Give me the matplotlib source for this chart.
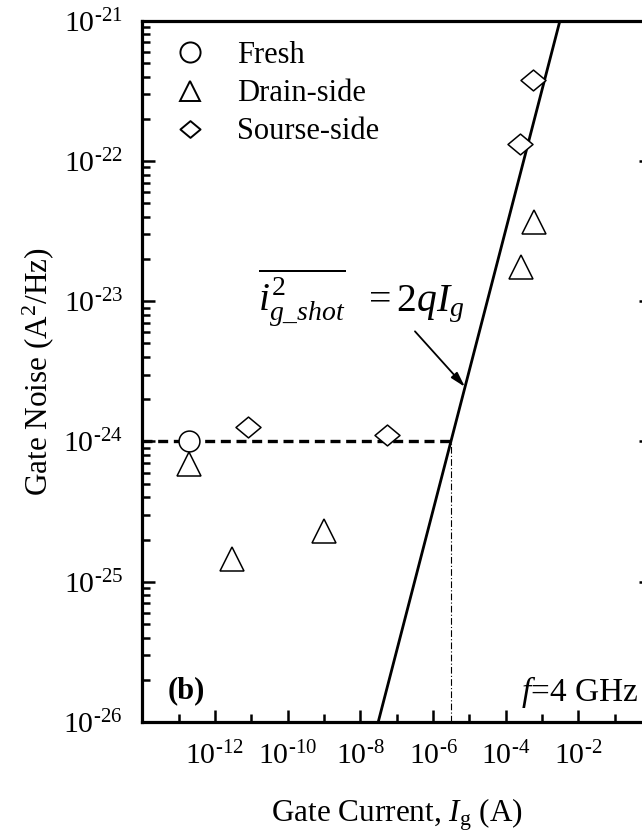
import numpy as np
import matplotlib
matplotlib.use("Agg")
import matplotlib.pyplot as plt
from matplotlib.path import Path
from matplotlib.ticker import LogLocator, NullFormatter, FixedLocator

plt.rcParams['font.family'] = ['Liberation Serif', 'DejaVu Serif']
plt.rcParams['mathtext.fontset'] = 'custom'
plt.rcParams['mathtext.rm'] = 'Liberation Serif'
plt.rcParams['mathtext.it'] = 'Liberation Serif:italic'
plt.rcParams['mathtext.bf'] = 'Liberation Serif:bold'

# ---- measured gate noise at f = 4 GHz ----
fresh_ig = [2.0e-13]
fresh_sn = [1.0e-24]

drain_ig = [2.0e-13, 3.0e-12, 1.0e-9, 2.6e-4, 6.2e-4]
drain_sn = [6.9e-25, 1.45e-25, 2.3e-25, 1.75e-23, 3.7e-23]

source_ig = [7.9e-12, 5.4e-8, 2.5e-4, 5.5e-4]
source_sn = [1.26e-24, 1.12e-24, 1.32e-22, 3.77e-22]

series_labels = ["Fresh", "Drain-side", "Sourse-side"]

# shot noise reference 2qIg
q = 1.602e-19
noise_floor = 1e-24

HY = "\u2010"  # short hyphen for the exponents
x_major = [1e-14, 1e-12, 1e-10, 1e-8, 1e-6, 1e-4, 1e-2, 1e0]
x_minor = [1e-13, 1e-11, 1e-9, 1e-7, 1e-5, 1e-3, 1e-1]
x_exps = [None, 12, 10, 8, 6, 4, 2, None]
y_major = [1e-26, 1e-25, 1e-24, 1e-23, 1e-22, 1e-21]
y_exps = [26, 25, 24, 23, 22, 21]


def pow_label(e):
    if e is None:
        return ""
    return r"$10^{\mathrm{%s}%d}$" % (HY, e)


fig = plt.figure(figsize=(6.42, 8.35), dpi=100)
# axes run past the right edge of the canvas
ax = fig.add_axes([142.2 / 642, 113 / 835, 508.8 / 642, 701.3 / 835])

ax.set_xscale('log')
ax.set_yscale('log')
ax.set_xlim(1e-14, 1e0)
ax.set_ylim(1e-26, 1e-21)

# shot noise line
ig = np.array([1e-14, 1e0])
ax.plot(ig, 2 * q * ig, color='black', lw=2.0, zorder=3)

ig_cross = noise_floor / (2 * q)
ax.plot([1e-14, ig_cross], [noise_floor, noise_floor], color='black', lw=2.4,
        linestyle=(0, (3.0, 1.7)), zorder=2)
ax.plot([ig_cross, ig_cross], [1e-26, noise_floor], color='black', lw=0.8,
        linestyle=(0, (6, 2, 1, 2)), zorder=2)

diamond = Path([(-1.2, 0), (0, 1), (1.2, 0), (0, -1), (-1.2, 0)],
               [Path.MOVETO, Path.LINETO, Path.LINETO, Path.LINETO, Path.CLOSEPOLY])

mk = dict(linestyle='none', markerfacecolor='white', markeredgecolor='black',
          markeredgewidth=1.1, zorder=4)
ax.plot(fresh_ig, fresh_sn, marker='o', markersize=15, label=series_labels[0], **mk)
ax.plot(drain_ig, drain_sn, marker='^', markersize=17, label=series_labels[1], **mk)
ax.plot(source_ig, source_sn, marker=diamond, markersize=18, label=series_labels[2], **mk)

leg = ax.legend(loc='upper left', bbox_to_anchor=(0.064, 0.971), frameon=False,
                fontsize=22, handlelength=1.0, handletextpad=1.04,
                labelspacing=0.30, borderpad=0, borderaxespad=0, numpoints=1)
for h in leg.legend_handles:
    h.set_markersize(14.5)
    h.set_markeredgewidth(1.4)

ax.text(1.5e-11, 8.5e-24, r"$\overline{i^{2}_{g\_shot}}\ \ = 2qI_{g}$",
        fontsize=28.5, ha='left', va='baseline')
ax.annotate("", xy=(7.6e-6, 2.45e-24), xytext=(3.2e-7, 6.1e-24),
            arrowprops=dict(arrowstyle='-|>,head_length=0.9,head_width=0.25',
                            color='black', lw=1.3, shrinkA=0, shrinkB=0))

ax.text(0.049, 0.034, "(b)", transform=ax.transAxes, fontsize=22,
        fontweight='bold', ha='left', va='baseline')
ax.text(0.974, 0.030, r"$f$=4 GHz", transform=ax.transAxes, fontsize=24,
        ha='right', va='baseline')

ax.xaxis.set_major_locator(FixedLocator(x_major))
ax.xaxis.set_minor_locator(FixedLocator(x_minor))
ax.set_xticklabels([pow_label(e) for e in x_exps])
ax.xaxis.set_minor_formatter(NullFormatter())
ax.yaxis.set_major_locator(FixedLocator(y_major))
ax.yaxis.set_minor_locator(LogLocator(base=10, subs=np.arange(2, 10)))
ax.set_yticklabels([pow_label(e) for e in y_exps])
ax.yaxis.set_minor_formatter(NullFormatter())

ax.tick_params(which='both', direction='in', top=False, right=True,
               labelsize=21.5, width=1.8)
ax.tick_params(which='major', length=9, pad=14)
ax.tick_params(axis='y', which='major', pad=14)
ax.tick_params(which='minor', length=5.5)
ax.tick_params(axis='x', which='minor', length=6)

for s in ax.spines.values():
    s.set_linewidth(2.3)

ax.set_xlabel(r"Gate Current, $I_{\rm g}$ (A)", fontsize=22.5, labelpad=19)
ax.set_ylabel(r"Gate Noise (A$^{2}$/Hz)", fontsize=22.5, labelpad=5)

fig.savefig("out.png", dpi=100)
